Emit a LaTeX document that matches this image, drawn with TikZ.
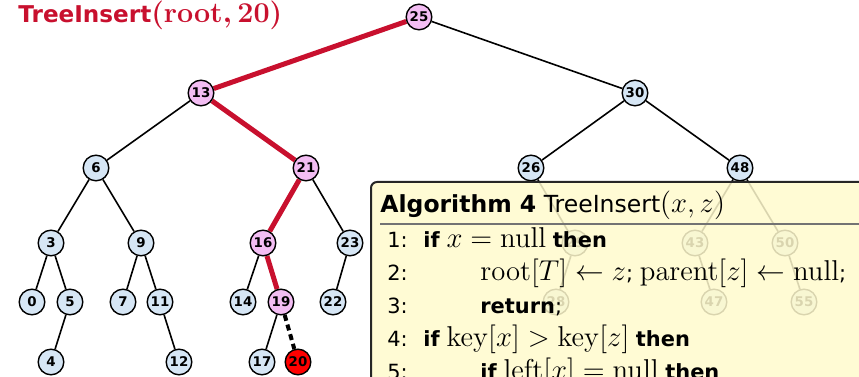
\documentclass[tikz,border=0pt]{standalone}
\usepackage[no-math]{fontspec}
\setmainfont{DejaVu Sans}
\usetikzlibrary{positioning}
\DeclareMathSizes{10.5}{13.4}{10}{8}
\DeclareMathSizes{11.8}{15}{11}{9}
\DeclareMathSizes{11.6}{13.3}{11}{9}
\definecolor{keyblue}{RGB}{214,230,245}
\definecolor{keypink}{RGB}{243,189,243}
\definecolor{pathred}{RGB}{200,16,46}
\definecolor{algoyellow}{RGB}{255,250,205}
\pgfdeclarelayer{edges}
\pgfsetlayers{edges,main}

\begin{document}
\begin{tikzpicture}[x=0.5bp, y=-0.5bp,
  keynode/.style={circle, draw, line width=0.7bp, fill=keyblue, minimum size=12.8bp,
    inner sep=0pt, font=\fontsize{6.7}{7}\selectfont\bfseries},
  pathnode/.style={keynode, fill=keypink},
  newnode/.style={keynode, fill=red},
  treeedge/.style={line width=0.8bp},
  pathedge/.style={line width=2.5bp, draw=pathred},
  newedge/.style={line width=2bp, dash pattern=on 3bp off 2bp},
  algoline/.style={anchor=base west, inner sep=0pt, font=\fontsize{10.5}{12}\selectfont}]
  \useasboundingbox (0,0) rectangle (859,377);
  \clip (0,0) rectangle (859,377);
  % heading
  \node[anchor=base west, inner sep=0pt, text=pathred, font=\fontsize{11.6}{14}\selectfont\bfseries]
    (heading) at (18,23) {TreeInsert{\boldmath$(\mathrm{root}, 20)$}};
  % keys of the tree
  \node[pathnode] (n25) at (419,17) {25};
  \node[pathnode] (n13) at (201,93) {13};
  \node[keynode] (n30) at (635,93) {30};
  \node[keynode] (n6) at (96,168) {6};
  \node[pathnode] (n21) at (306,168) {21};
  \node[keynode] (n26) at (531,168) {26};
  \node[keynode] (n48) at (740,168) {48};
  \node[keynode] (n3) at (51,243) {3};
  \node[keynode] (n9) at (141,243) {9};
  \node[pathnode] (n16) at (263,243) {16};
  \node[keynode] (n23) at (350,243) {23};
  \node[keynode] (n29) at (575,243) {29};
  \node[keynode] (n43) at (695,243) {43};
  \node[keynode] (n50) at (785,243) {50};
  \node[keynode] (n0) at (32,302) {0};
  \node[keynode] (n5) at (70,302) {5};
  \node[keynode] (n7) at (123,302) {7};
  \node[keynode] (n11) at (160,302) {11};
  \node[keynode] (n14) at (243,302) {14};
  \node[pathnode] (n19) at (281,302) {19};
  \node[keynode] (n22) at (333,302) {22};
  \node[keynode] (n28) at (556,302) {28};
  \node[keynode] (n47) at (714,302) {47};
  \node[keynode] (n55) at (804,302) {55};
  \node[keynode] (n4) at (51,362) {4};
  \node[keynode] (n12) at (179,362) {12};
  \node[keynode] (n17) at (262,362) {17};
  \node[newnode] (n20) at (298,362) {20};
  % edges, search path in red
  \begin{pgfonlayer}{edges}
    \draw[pathedge] (n25) -- (n13);
    \draw[treeedge] (n25) -- (n30);
    \draw[treeedge] (n13) -- (n6);
    \draw[pathedge] (n13) -- (n21);
    \draw[treeedge] (n30) -- (n26);
    \draw[treeedge] (n30) -- (n48);
    \draw[treeedge] (n6) -- (n3);
    \draw[treeedge] (n6) -- (n9);
    \draw[pathedge] (n21) -- (n16);
    \draw[treeedge] (n21) -- (n23);
    \draw[treeedge] (n26) -- (n29);
    \draw[treeedge] (n48) -- (n43);
    \draw[treeedge] (n48) -- (n50);
    \draw[treeedge] (n3) -- (n0);
    \draw[treeedge] (n3) -- (n5);
    \draw[treeedge] (n9) -- (n7);
    \draw[treeedge] (n9) -- (n11);
    \draw[treeedge] (n16) -- (n14);
    \draw[pathedge] (n16) -- (n19);
    \draw[treeedge] (n23) -- (n22);
    \draw[treeedge] (n29) -- (n28);
    \draw[treeedge] (n43) -- (n47);
    \draw[treeedge] (n50) -- (n55);
    \draw[treeedge] (n5) -- (n4);
    \draw[treeedge] (n11) -- (n12);
    \draw[treeedge] (n19) -- (n17);
    \draw[newedge] (n19) -- (n20);
  \end{pgfonlayer}
  % algorithm box over the right subtree
  \draw[draw=black!85, line width=1bp, fill=algoyellow, fill opacity=0.85, rounded corners=3bp]
    (371,182) rectangle (900,430);
  \draw[black!55, line width=0.6bp] (380,224) -- (900,224);
  \node[algoline, font=\fontsize{11.8}{13}\selectfont] (algtitle) at (380,213)
    {\textbf{Algorithm 4} TreeInsert$(x, z)$};
  \node[algoline] (num1) at (387,248) {1:};
  \node[algoline] (num2) at (387,281) {2:};
  \node[algoline] (num3) at (387,314) {3:};
  \node[algoline] (num4) at (387,347) {4:};
  \node[algoline] (num5) at (387,380) {5:};
  \node[algoline] (stm1) at (423,248) {\textbf{if} $x = \mathrm{null}$ \textbf{then}};
  \node[algoline] (stm2) at (480,281)
    {$\mathrm{root}[T] \leftarrow z$; $\mathrm{parent}[z] \leftarrow \mathrm{null}$;};
  \node[algoline] (stm3) at (480,314) {\textbf{return};};
  \node[algoline] (stm4) at (423,347)
    {\textbf{if} $\mathrm{key}[x] > \mathrm{key}[z]$ \textbf{then}};
  \node[algoline] (stm5) at (480,380) {\textbf{if} $\mathrm{left}[x] = \mathrm{null}$ \textbf{then}};
\end{tikzpicture}
\end{document}
